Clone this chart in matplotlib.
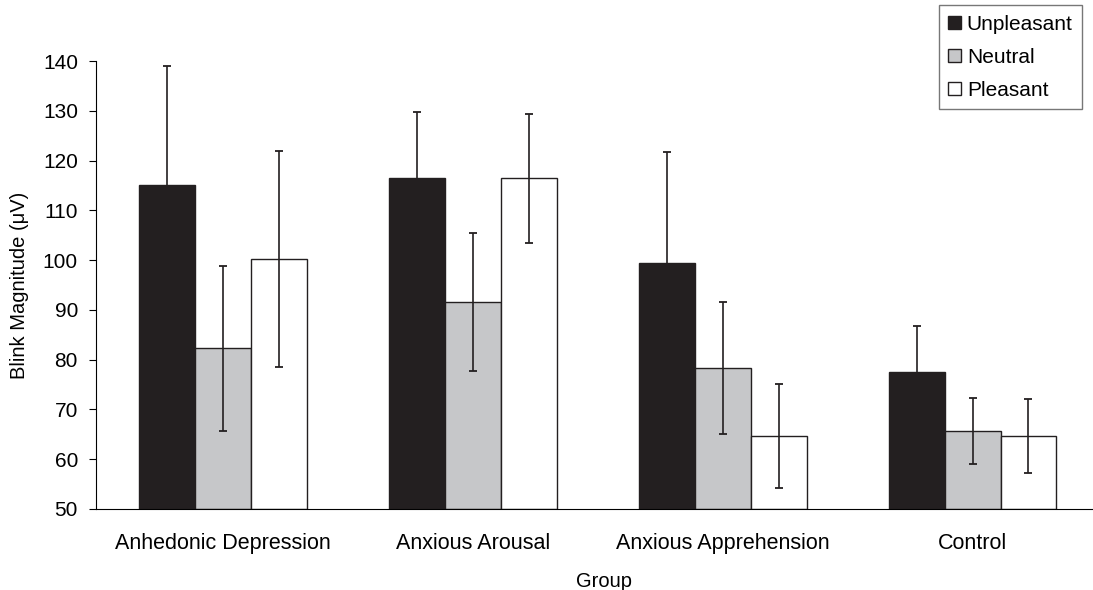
import numpy as np
import matplotlib.pyplot as plt

plt.rcParams['font.family'] = ['Liberation Sans', 'DejaVu Sans']

groups = ["Anhedonic Depression", "Anxious Arousal", "Anxious Apprehension", "Control"]
conditions = ["Unpleasant", "Neutral", "Pleasant"]

unpleasant = [115.0, 116.5, 99.5, 77.6]
neutral = [82.3, 91.6, 78.3, 65.6]
pleasant = [100.2, 116.4, 64.7, 64.7]

unpleasant_err = [24.0, 13.3, 22.2, 9.2]
neutral_err = [16.6, 13.9, 13.2, 6.6]
pleasant_err = [21.7, 13.0, 10.5, 7.4]

colors = ["#231f20", "#c6c7c9", "#ffffff"]

fig = plt.figure(figsize=(10.93, 5.90), dpi=100)
ax = fig.add_axes([0.0878, 0.1373, 0.93, 0.7593])

x = np.arange(len(groups))
w = 0.224
series = [unpleasant, neutral, pleasant]
errs = [unpleasant_err, neutral_err, pleasant_err]
for i, (vals, err) in enumerate(zip(series, errs)):
    ax.bar(x + (i - 1) * w, np.array(vals) - 50, w, bottom=50, color=colors[i],
           edgecolor="#231f20", linewidth=1.0, label=conditions[i],
           yerr=err, error_kw=dict(ecolor="#231f20", elinewidth=1.2,
                                   capsize=3.2, capthick=1.3))

ax.set_ylim(50, 140)
ax.set_xlim(-0.508, 3.56)
ax.set_yticks(np.arange(50, 141, 10))
ax.set_xticks(x)
ax.set_xticklabels(groups, fontsize=15.5)
ax.tick_params(axis='x', length=0, pad=17)
ax.tick_params(axis='y', labelsize=15, length=5, direction='out', pad=8)
ax.spines['top'].set_visible(False)
ax.spines['right'].set_visible(False)
ax.set_ylabel("Blink Magnitude (μV)", fontsize=14.5, labelpad=10)
ax.set_xlabel("Group", fontsize=14.5, labelpad=13)

leg = fig.legend(loc='upper right', bbox_to_anchor=(0.99, 0.991), fontsize=15,
                 fancybox=False, edgecolor="#555555", handlelength=0.6,
                 handleheight=0.6, handletextpad=0.3, borderpad=0.45,
                 labelspacing=0.68, borderaxespad=0)
leg.get_frame().set_linewidth(1.0)

fig.savefig("out.png", dpi=100)
